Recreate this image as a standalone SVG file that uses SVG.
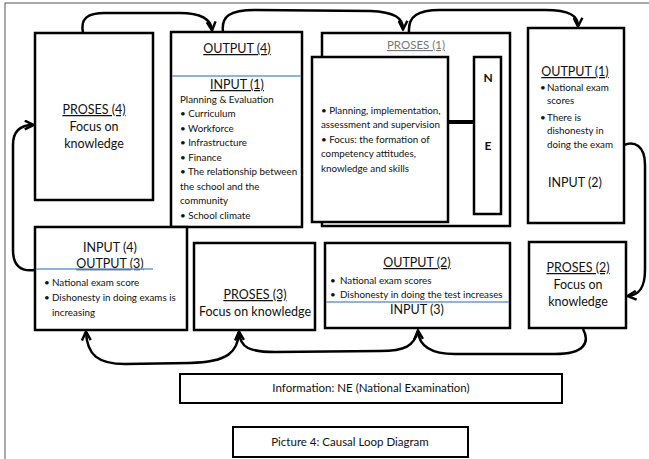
<svg xmlns="http://www.w3.org/2000/svg" width="649" height="459" viewBox="0 0 649 459">
<style>
text{font-family:Lato,"Liberation Sans",sans-serif;fill:#111}
.box{fill:#fff;stroke:#000;stroke-width:2.5}
.sbox{fill:#fff;stroke:#000;stroke-width:2}
.h{font-size:12.5px;text-anchor:middle}
.u{text-decoration:underline}
.t{font-size:9.8px}
.c{fill:none;stroke:#000;stroke-width:2.5}
.blue{stroke:#6a9bd1;stroke-width:1.5}
</style>
<defs>
<marker id="ah" viewBox="0 0 10 10" refX="8.5" refY="5" markerWidth="11" markerHeight="11" markerUnits="userSpaceOnUse" orient="auto">
<path d="M1,1 L9,5 L1,9" fill="none" stroke="#000" stroke-width="2.2"/>
</marker>
</defs>
<rect x="5" y="3" width="700" height="500" fill="#fff" stroke="#555" stroke-width="1"/>

<g id="proses4">
<rect class="box" x="35" y="33" width="118" height="167"/>
<text class="h u" x="94" y="114">PROSES (4)</text>
<text class="h" x="94" y="131">Focus on</text>
<text class="h" x="94" y="148">knowledge</text>
</g>

<g id="output4-input1">
<rect class="box" x="171" y="32" width="131" height="195"/>
<text class="h u" x="237" y="53">OUTPUT (4)</text>
<line class="blue" x1="172" y1="76" x2="301" y2="76"/>
<text class="h u" x="237" y="89">INPUT (1)</text>
<text class="t" x="180" y="102.5">Planning &amp; Evaluation</text>
<text class="t" x="180" y="117">• Curriculum</text>
<text class="t" x="180" y="131.5">• Workforce</text>
<text class="t" x="180" y="146">• Infrastructure</text>
<text class="t" x="180" y="160.5">• Finance</text>
<text class="t" x="180" y="175">• The relationship between</text>
<text class="t" x="180" y="189.5">the school and the</text>
<text class="t" x="180" y="204">community</text>
<text class="t" x="180" y="218.5">• School climate</text>
</g>

<g id="proses1">
<rect class="box" x="322" y="33" width="188" height="193"/>
<text class="u" x="416" y="49" style="font-size:11.5px;text-anchor:middle;fill:#777">PROSES (1)</text>
<rect class="box" x="312" y="57" width="136" height="165"/>
<text class="t" x="321" y="113.5">• Planning, implementation,</text>
<text class="t" x="321" y="128">assessment and supervision</text>
<text class="t" x="321" y="142.5">• Focus: the formation of</text>
<text class="t" x="321" y="157">competency attitudes,</text>
<text class="t" x="321" y="171.5">knowledge and skills</text>
</g>

<g id="ne">
<rect class="box" x="474" y="57" width="27" height="157"/>
<text class="h" x="488" y="82" style="font-size:12px;font-weight:bold">N</text>
<text class="h" x="488" y="150" style="font-size:12px;font-weight:bold">E</text>
</g>

<g id="output1-input2">
<rect class="box" x="528" y="28" width="96" height="195"/>
<text class="h u" x="575" y="76">OUTPUT (1)</text>
<text class="t" x="540" y="90.5">•</text>
<text class="t" x="547" y="90.5">National exam</text>
<text class="t" x="547" y="103.5">scores</text>
<text class="t" x="540" y="120.5">•</text>
<text class="t" x="547" y="120.5">There is</text>
<text class="t" x="547" y="134">dishonesty in</text>
<text class="t" x="547" y="147.5">doing the exam</text>
<text class="h" x="575" y="187">INPUT (2)</text>
</g>

<g id="input4-output3">
<rect class="box" x="35" y="227" width="152" height="103"/>
<text class="h" x="110" y="252">INPUT (4)</text>
<text class="h u" x="110" y="268">OUTPUT (3)</text>
<line class="blue" x1="36" y1="269" x2="153" y2="269"/>
<text class="t" x="44" y="285.5">•</text>
<text class="t" x="52" y="285.5">National exam score</text>
<text class="t" x="44" y="300.5">•</text>
<text class="t" x="52" y="300.5">Dishonesty in doing exams is</text>
<text class="t" x="52" y="315.5">increasing</text>
</g>

<g id="proses3">
<rect class="box" x="194" y="243" width="121" height="87"/>
<text class="h u" x="255" y="299">PROSES (3)</text>
<text class="h" x="255" y="316">Focus on knowledge</text>
</g>

<g id="output2-input3">
<rect class="box" x="325" y="243" width="185" height="85"/>
<text class="h u" x="417" y="267">OUTPUT (2)</text>
<text class="t" x="330" y="283.5">•</text>
<text class="t" x="340" y="283.5">National exam scores</text>
<text class="t" x="330" y="297.5">•</text>
<text class="t" x="340" y="297.5">Dishonesty in doing the test increases</text>
<line class="blue" x1="326" y1="302" x2="509" y2="302"/>
<text class="h" x="417" y="314">INPUT (3)</text>
</g>

<g id="proses2">
<rect class="box" x="529" y="242" width="97" height="86"/>
<text class="h u" x="578" y="272">PROSES (2)</text>
<text class="h" x="578" y="289">Focus on</text>
<text class="h" x="578" y="306">knowledge</text>
</g>

<g id="connectors">
<line x1="448" y1="122" x2="474" y2="122" stroke="#000" stroke-width="4"/>
<path class="c" marker-end="url(#ah)" d="M83 33 C80 18,88 13,105 13 L180 13 C203 13,211 20,212 30"/>
<path class="c" marker-end="url(#ah)" d="M223 32 C221 16,230 10,255 10 L370 11 C395 12,403 18,403 29"/>
<path class="c" marker-end="url(#ah)" d="M409 32 C408 16,418 10,440 10 L545 10 C570 10,578 16,578 26"/>
<path class="c" marker-end="url(#ah)" d="M624 145 C634 141,645 145,645 165 L645 270 C645 288,639 295,628 296"/>
<path class="c" marker-end="url(#ah)" d="M583 329 C590 342,585 354,555 354 L455 354 C430 354,419 346,418 331"/>
<path class="c" marker-end="url(#ah)" d="M418 331 C414 346,405 351,380 351 L275 352 C250 352,240 348,239 332"/>
<path class="c" marker-end="url(#ah)" d="M239 332 C238 352,228 362,190 363 L125 364 C98 364,87 355,86 332"/>
<path class="c" marker-end="url(#ah)" d="M35 270 C20 272,13 265,13 250 L13 145 C13 131,20 125,33 125"/>
</g>

<g id="info">
<rect class="sbox" x="180" y="374" width="382" height="29"/>
<text x="371" y="392" style="font-size:11.5px;text-anchor:middle">Information: NE (National Examination)</text>
</g>
<g id="caption">
<rect class="sbox" x="233" y="427" width="235" height="30"/>
<text x="350" y="446" style="font-size:11.5px;text-anchor:middle">Picture 4: Causal Loop Diagram</text>
</g>
</svg>
